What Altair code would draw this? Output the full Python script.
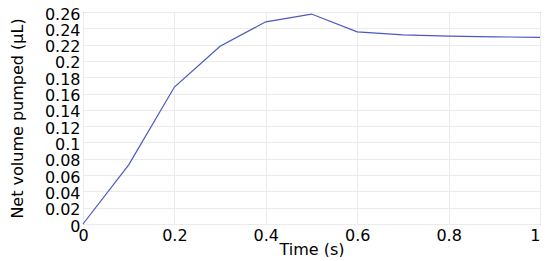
import altair as alt
import pandas as pd

time_s = [0.0, 0.1, 0.2, 0.3, 0.4, 0.5, 0.6, 0.7, 0.8, 0.9, 1.0]
volume_ul = [0.0, 0.0725, 0.168, 0.218, 0.248, 0.2575, 0.2357, 0.232, 0.2304, 0.2296, 0.2288]
y_ticks = [0, 0.02, 0.04, 0.06, 0.08, 0.1, 0.12, 0.14, 0.16, 0.18, 0.2, 0.22, 0.24, 0.26]
x_ticks = [0, 0.2, 0.4, 0.6, 0.8, 1]

df = pd.DataFrame({"t": time_s, "v": volume_ul})

font = "DejaVu Sans"

chart = alt.Chart(df).mark_line(color="#4a58c0", strokeWidth=1.2).encode(
    x=alt.X("t:Q", title="Time (s)",
            scale=alt.Scale(domain=[0, 1], nice=False),
            axis=alt.Axis(values=x_ticks, format="~g", labelFont=font, labelFontSize=16,
                          labelColor="#000", titleFont=font, titleFontSize=16,
                          titleFontWeight="normal", titleColor="#000",
                          labelPadding=3, titlePadding=-2, ticks=False,
                          labelAlign={"condition": {"test": "datum.value == 1", "value": "right"},
                                      "value": "center"},
                          domain=False, gridColor="#ebebeb", labelFlush=False)),
    y=alt.Y("v:Q", title="Net volume pumped (µL)",
            scale=alt.Scale(domain=[0, 0.26], nice=False),
            axis=alt.Axis(values=y_ticks, format="~g", labelFont=font, labelFontSize=16,
                          labelColor="#000", titleFont=font, titleFontSize=16,
                          titleFontWeight="normal", titleColor="#000",
                          labelPadding=3, titlePadding=19, ticks=False, labelOffset=2,
                          domain=False, gridColor="#ebebeb", labelFlush=False,
                          labelOverlap=False)),
).properties(
    width=457, height=212,
    autosize=alt.AutoSizeParams(type="none"),
    padding={"left": 75, "top": 4, "right": 2, "bottom": 33},
).configure_view(stroke="#888888", strokeWidth=1)

chart.save("out.html", embed_options={"renderer": "svg", "actions": False})
